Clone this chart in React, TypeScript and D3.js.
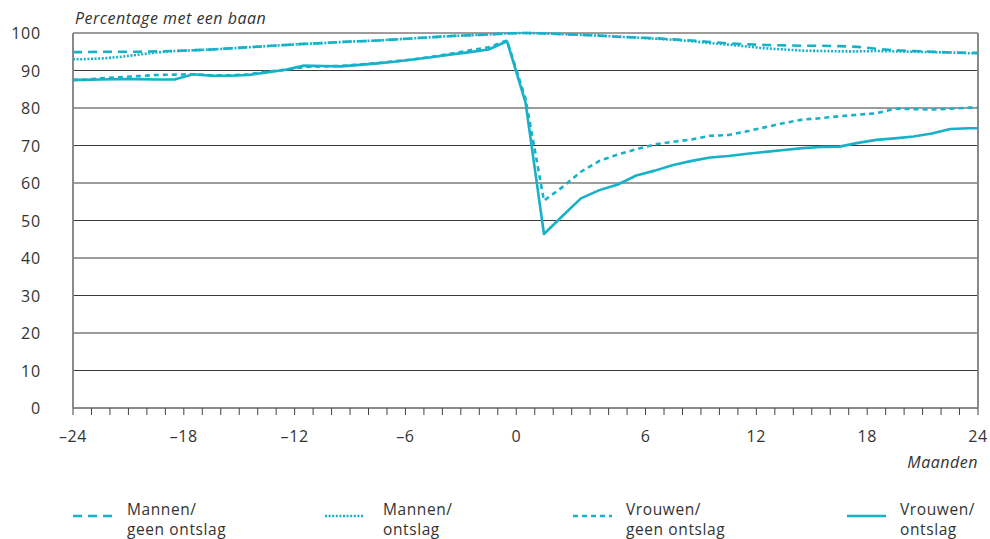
import React from "react";
import * as d3 from "d3";

// Categories: months relative to dismissal (two "0" categories straddle the event)
const months: number[] = [
  -24, -23, -22, -21, -20, -19, -18, -17, -16, -15, -14, -13, -12, -11, -10, -9, -8, -7, -6, -5, -4, -3, -2, -1,
  0,
  1, 2, 3, 4, 5, 6, 7, 8, 9, 10, 11, 12, 13, 14, 15, 16, 17, 18, 19, 20, 21, 22, 23, 24,
];

const mannenGeenOntslag: number[] = [
  94.9, 95.0, 95.0, 95.0, 95.1, 95.2, 95.4, 95.6, 95.9, 96.2, 96.5,
  96.8, 97.1, 97.3, 97.6, 97.8, 98.0, 98.3, 98.6, 98.9, 99.2,
  99.4, 99.6, 99.9, 100.0, 99.9, 99.7, 99.5, 99.3, 99.0, 98.8,
  98.6, 98.3, 98.0, 97.6, 97.2, 97.0, 96.8, 96.7, 96.6, 96.6,
  96.5, 96.3, 95.8, 95.4, 95.2, 95.0, 94.8, 94.7,
];

const mannenOntslag: number[] = [
  93.0, 93.2, 93.6, 94.2, 94.8, 95.2, 95.4, 95.6, 95.9, 96.2, 96.5,
  96.8, 97.1, 97.3, 97.6, 97.8, 98.0, 98.3, 98.6, 98.9, 99.2,
  99.4, 99.6, 99.9, 100.0, 99.9, 99.7, 99.5, 99.3, 99.0, 98.8,
  98.5, 98.2, 97.8, 97.3, 96.9, 96.4, 95.9, 95.6, 95.3, 95.2,
  95.1, 95.1, 95.2, 95.1, 95.0, 94.9, 94.8, 94.6,
];

const vrouwenGeenOntslag: number[] = [
  87.5, 87.9, 88.2, 88.5, 88.8, 88.9, 89.0, 88.7, 88.7, 89.0, 89.7,
  90.2, 90.9, 91.1, 91.2, 91.6, 92.0, 92.5, 93.0, 93.7, 94.5,
  95.4, 96.2, 98.0,
  82.5, 55.3, 58.9, 63.0, 65.9, 67.6, 69.0,
  70.3, 71.0, 71.6, 72.6, 72.8, 73.8, 74.9, 76.0, 76.9, 77.3,
  77.8, 78.2, 78.6, 79.8, 79.7, 79.6, 79.8, 80.1,
];

const vrouwenOntslag: number[] = [
  87.5, 87.6, 87.7, 87.7, 87.6, 87.6, 89.0, 88.6, 88.6, 88.8, 89.5,
  90.2, 91.3, 91.2, 91.1, 91.5, 91.9, 92.4, 93.0, 93.6, 94.3,
  94.9, 95.6, 97.8,
  81.5, 46.4, 51.2, 55.9, 58.1, 59.6, 62.0,
  63.3, 64.8, 65.9, 66.8, 67.2, 67.8, 68.3, 68.8, 69.3, 69.6,
  69.7, 70.7, 71.5, 71.9, 72.4, 73.2, 74.4, 74.6,
];

const xTickLabels: number[] = [-24, -18, -12, -6, 0, 6, 12, 18, 24];
const yTicks: number[] = [0, 10, 20, 30, 40, 50, 60, 70, 80, 90, 100];

const seriesNames: string[][] = [
  ["Mannen/", "geen ontslag"],
  ["Mannen/", "ontslag"],
  ["Vrouwen/", "geen ontslag"],
  ["Vrouwen/", "ontslag"],
];

const COLOR = "#17b2c9";
const TEXT = "#333";
const FONT = "'Open Sans', 'Noto Sans', sans-serif";
const dashes = ["9,6", "2,1.6", "5,4", null];
const legendX = [73, 325, 573, 847];
const legendTextDx = [54, 58, 53, 53];

const W = 990;
const H = 539;
const left = 73;
const right = 978;
const top = 33;
const bottom = 408;

export default function App() {
  const n = months.length;
  const x = d3.scaleLinear().domain([0, n]).range([left, right]);
  const y = d3.scaleLinear().domain([0, 100]).range([bottom, top]);

  const allSeries = [mannenGeenOntslag, mannenOntslag, vrouwenGeenOntslag, vrouwenOntslag];

  const line = d3
    .line<[number, number]>()
    .x((d) => x(d[0]))
    .y((d) => y(d[1]));

  const pathFor = (vals: number[]) => {
    const pts: [number, number][] = vals.map((v, i) => [i + 0.5, v]);
    const ext: [number, number][] = [[0, vals[0]], ...pts, [n, vals[vals.length - 1]]];
    return line(ext) || "";
  };

  // tick boundary for a label: months <= 0 at index m+24, months > 0 at m+25
  const boundaryOf = (m: number) => (m <= 0 ? m + 24 : m + 25);
  const tickIdx = d3.range(0, n + 1);

  return (
    <svg
      width={W}
      height={H}
      style={{ position: "absolute", left: 0, top: 0, background: "#fff" }}
      fontFamily={FONT}
    >
      {yTicks.filter((t) => t > 0).map((t) => (
        <line key={"g" + t} x1={left} x2={right} y1={y(t)} y2={y(t)} stroke="#3a3a3a" strokeWidth={1} />
      ))}
      <line x1={left} x2={left} y1={top} y2={bottom} stroke="#8a8a8a" strokeWidth={2} />
      <line x1={right} x2={right} y1={top} y2={bottom} stroke="#8a8a8a" strokeWidth={2} />
      <line x1={left} x2={right} y1={bottom} y2={bottom} stroke="#8a8a8a" strokeWidth={2} />
      {tickIdx.map((i) => (
        <line key={"t" + i} x1={x(i)} x2={x(i)} y1={bottom} y2={bottom + 7} stroke="#444" strokeWidth={1} />
      ))}
      {xTickLabels.map((m) => (
        <text key={"xl" + m} x={x(boundaryOf(m))} y={442} textAnchor="middle" fontSize={16} letterSpacing={0.6} fill={TEXT}>
          {m < 0 ? "\u2013" + Math.abs(m) : String(m)}
        </text>
      ))}
      {yTicks.map((t) => (
        <text key={"yl" + t} x={41} y={y(t) + 6} textAnchor="end" fontSize={16} letterSpacing={0.8} fill={TEXT}>
          {t}
        </text>
      ))}
      <text x={75} y={24} fontSize={16} letterSpacing={0.5} fontStyle="italic" fill={TEXT}>
        Percentage met een baan
      </text>
      <text x={right} y={468} textAnchor="end" fontSize={16} letterSpacing={0.5} fontStyle="italic" fill={TEXT}>
        Maanden
      </text>
      {allSeries.map((vals, si) => (
        <path
          key={"s" + si}
          d={pathFor(vals)}
          fill="none"
          stroke={COLOR}
          strokeWidth={2.6}
          strokeDasharray={dashes[si] || undefined}
          strokeLinejoin="round"
        />
      ))}
      {seriesNames.map((nm, si) => (
        <g key={"lg" + si}>
          <line
            x1={legendX[si]}
            x2={legendX[si] + 39}
            y1={516}
            y2={516}
            stroke={COLOR}
            strokeWidth={2.6}
            strokeDasharray={dashes[si] || undefined}
          />
          <text x={legendX[si] + legendTextDx[si]} y={515} fontSize={15.5} letterSpacing={0.6} fill={TEXT}>
            {nm[0]}
          </text>
          <text x={legendX[si] + legendTextDx[si]} y={535} fontSize={15.5} letterSpacing={0.6} fill={TEXT}>
            {nm[1]}
          </text>
        </g>
      ))}
    </svg>
  );
}
